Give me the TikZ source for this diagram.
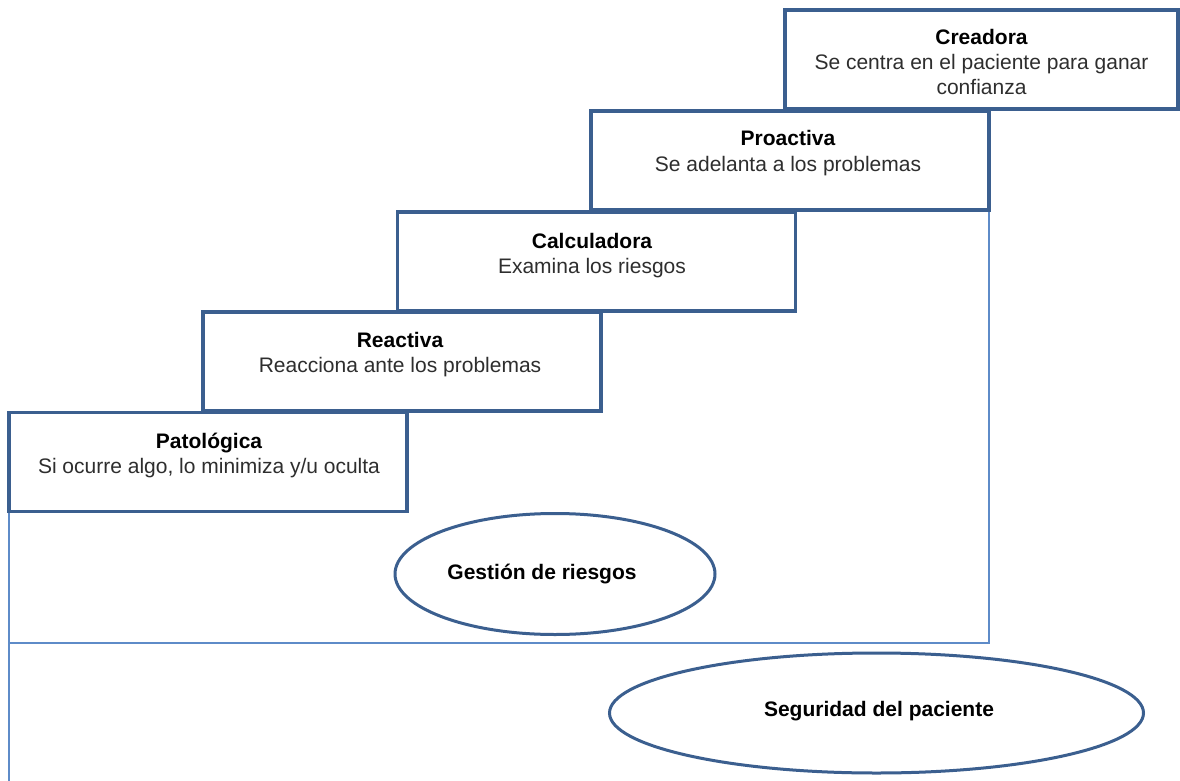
\documentclass[tikz,border=0pt]{standalone}
\usepackage{fontspec}
\setmainfont{Liberation Sans}
\usetikzlibrary{shapes.geometric}
\definecolor{boxblue}{HTML}{3B5F8F}
\definecolor{thinblue}{HTML}{5E8BC8}
\definecolor{subgray}{HTML}{2E2E2E}
\tikzset{
  stepbox/.style={draw=boxblue, line width=3.5pt, fill=white, rectangle, minimum width=398pt, minimum height=99pt, inner sep=0pt},
  ovalbox/.style={draw=boxblue, line width=3pt, ellipse, inner sep=0pt},
  thinline/.style={draw=thinblue, line width=1.4pt},
  titletext/.style={anchor=base, inner sep=0pt, font=\fontsize{21}{25}\selectfont\bfseries, text=black},
  subtext/.style={anchor=base, inner sep=0pt, font=\fontsize{21}{25}\selectfont, text=subgray}
}
\begin{document}
\begin{tikzpicture}[x=1pt, y=-1pt]
\useasboundingbox (0,0) rectangle (1180,781);
\fill[white] (0,0) rectangle (1180,781);
% thin frame lines
\coordinate (frTR) at (989,208);
\coordinate (frBR) at (989,643);
\coordinate (frBL) at (9,643);
\coordinate (frTL) at (9,500);
\coordinate (frBot) at (9,781);
\draw[thinline] (frTR) -- (frBR) -- (frBL);
\draw[thinline] (frTL) -- (frBot);
% step boxes
\node[stepbox] (pat) at (208,462) {};
\node[stepbox] (rea) at (402,361.5) {};
\node[stepbox] (cal) at (596.5,261.5) {};
\node[stepbox] (pro) at (790,160.5) {};
\node[stepbox, minimum width=393pt] (cre) at (981.5,59.5) {};
% texts
\node[titletext] (creT) at (981.5,45) {Creadora};
\node[subtext] (creS1) at (981.5,70) {Se centra en el paciente para ganar};
\node[subtext] (creS2) at (981.5,95) {confianza};
\node[titletext] (proT) at (788,146) {Proactiva};
\node[subtext] (proS) at (788,171) {Se adelanta a los problemas};
\node[titletext] (calT) at (592,248) {Calculadora};
\node[subtext] (calS) at (592,273) {Examina los riesgos};
\node[titletext] (reaT) at (400,347) {Reactiva};
\node[subtext] (reaS) at (400,372) {Reacciona ante los problemas};
\node[titletext] (patT) at (209,448) {Patológica};
\node[subtext] (patS) at (209,473) {Si ocurre algo, lo minimiza y/u oculta};
% ellipses
\node[ovalbox, minimum width=320pt, minimum height=121pt] (ges) at (555,574) {};
\node[titletext] (gesT) at (542,579) {Gestión de riesgos};
\node[ovalbox, minimum width=534pt, minimum height=120pt] (seg) at (876.5,713) {};
\node[titletext] (segT) at (879,716) {Seguridad del paciente};
\end{tikzpicture}
\end{document}
